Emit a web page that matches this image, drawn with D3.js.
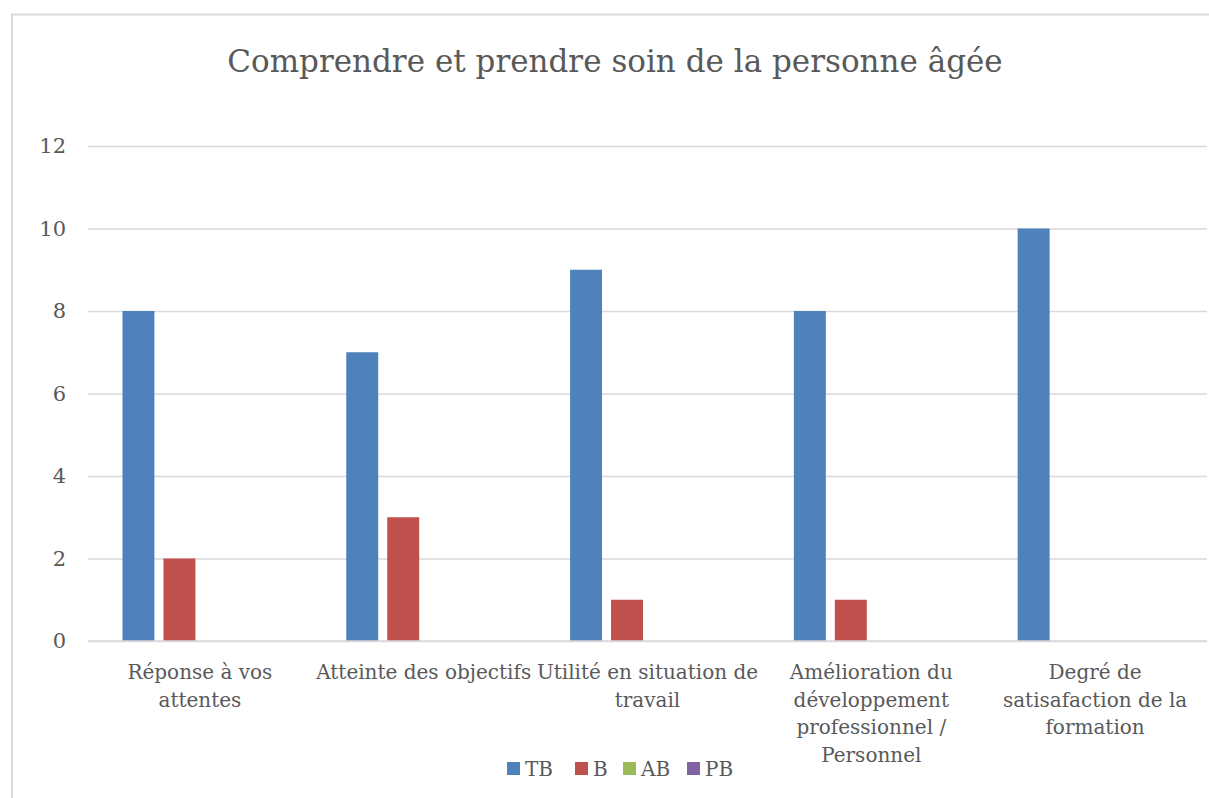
<!DOCTYPE html>
<html>
<head>
<meta charset="utf-8">
<script src="https://cdn.jsdelivr.net/npm/d3@7"></script>
<style>
  body { margin: 0; background: #fff; }
  text { font-family: "DejaVu Serif", "Liberation Serif", serif; fill: #595959; }
</style>
</head>
<body>
<div id="chart"></div>
<script>
const title = "Comprendre et prendre soin de la personne âgée";
const categories = [
  "Réponse à vos\nattentes",
  "Atteinte des objectifs",
  "Utilité en situation de\ntravail",
  "Amélioration du\ndéveloppement\nprofessionnel /\nPersonnel",
  "Degré de\nsatisafaction de la\nformation"
];
const seriesNames = ["TB", "B", "AB", "PB"];
const tbValues = [8, 7, 9, 8, 10];
const bValues = [2, 3, 1, 1, 0];
const abValues = [0, 0, 0, 0, 0];
const pbValues = [0, 0, 0, 0, 0];
const yTicks = [0, 2, 4, 6, 8, 10, 12];
const colors = ["#4F81BD", "#C0504D", "#9BBB59", "#8064A2"];

const seriesValues = [tbValues, bValues, abValues, pbValues];
const data = categories.map((c, i) => ({
  name: c,
  values: seriesNames.map((s, j) => ({ key: s, value: seriesValues[j][i] }))
}));

const W = 1209, H = 798;
const margin = { top: 146, right: 2, bottom: 157, left: 88 };
const width = W - margin.left - margin.right;
const height = H - margin.top - margin.bottom;

const svg = d3.select("#chart").append("svg")
  .attr("width", W).attr("height", H);

// chart frame
svg.append("rect")
  .attr("x", 12).attr("y", 14.5)
  .attr("width", W).attr("height", H)
  .attr("fill", "none").attr("stroke", "#D9D9D9").attr("stroke-width", 2);

svg.append("text")
  .attr("x", 615).attr("y", 72)
  .attr("text-anchor", "middle")
  .style("font-size", "31px")
  .text(title);

const chart = svg.append("g")
  .attr("transform", "translate(" + margin.left + "," + margin.top + ")");

const x0 = d3.scaleBand().domain(categories).range([0, width]).padding(0);
const groupPad = x0.bandwidth() * 0.154;
const x1 = d3.scaleBand().domain(seriesNames)
  .range([groupPad, x0.bandwidth() - groupPad]).paddingInner(0.22);
const y = d3.scaleLinear().domain([0, 12]).range([height, 0]);

// gridlines + y labels
const yaxis = d3.axisLeft(y).tickValues(yTicks).tickSize(-width).tickPadding(22);
chart.append("g").attr("class", "y-axis").call(yaxis)
  .call(g => g.select(".domain").remove())
  .call(g => g.selectAll(".tick line").attr("stroke", "#D9D9D9").attr("stroke-width", 1.3))
  .call(g => g.selectAll(".tick text")
    .attr("fill", "#595959").style("font-size", "21px")
    .style("font-family", "DejaVu Serif, serif"));

// bars
chart.append("g").selectAll("g")
  .data(data)
  .join("g")
  .attr("transform", d => "translate(" + x0(d.name) + ",0)")
  .selectAll("rect")
  .data(d => d.values.filter(v => v.value > 0))
  .join("rect")
  .attr("x", d => x1(d.key))
  .attr("width", x1.bandwidth())
  .attr("y", d => y(d.value))
  .attr("height", d => height - y(d.value))
  .attr("fill", d => colors[seriesNames.indexOf(d.key)]);

// x axis line
chart.append("line")
  .attr("x1", 0).attr("x2", width)
  .attr("y1", height).attr("y2", height)
  .attr("stroke", "#D9D9D9").attr("stroke-width", 1.5);

// category labels
const xlab = chart.append("g").selectAll("text")
  .data(categories)
  .join("text")
  .attr("text-anchor", "middle")
  .attr("y", height + 38)
  .style("font-size", "20px");
xlab.each(function (d) {
  const t = d3.select(this);
  d.split("\n").forEach((line, i) => {
    t.append("tspan")
      .attr("x", x0(d) + x0.bandwidth() / 2)
      .attr("dy", i === 0 ? 0 : 27.5)
      .text(line);
  });
});

// legend
const legendX = [507, 575, 623, 687];
const legend = svg.append("g").selectAll("g")
  .data(seriesNames)
  .join("g")
  .attr("transform", (d, i) => "translate(" + legendX[i] + ",762)");
legend.append("rect")
  .attr("width", 13).attr("height", 13)
  .attr("fill", (d, i) => colors[i]);
legend.append("text")
  .attr("x", 18).attr("y", 14)
  .style("font-size", "20px")
  .text(d => d);
</script>
</body>
</html>
